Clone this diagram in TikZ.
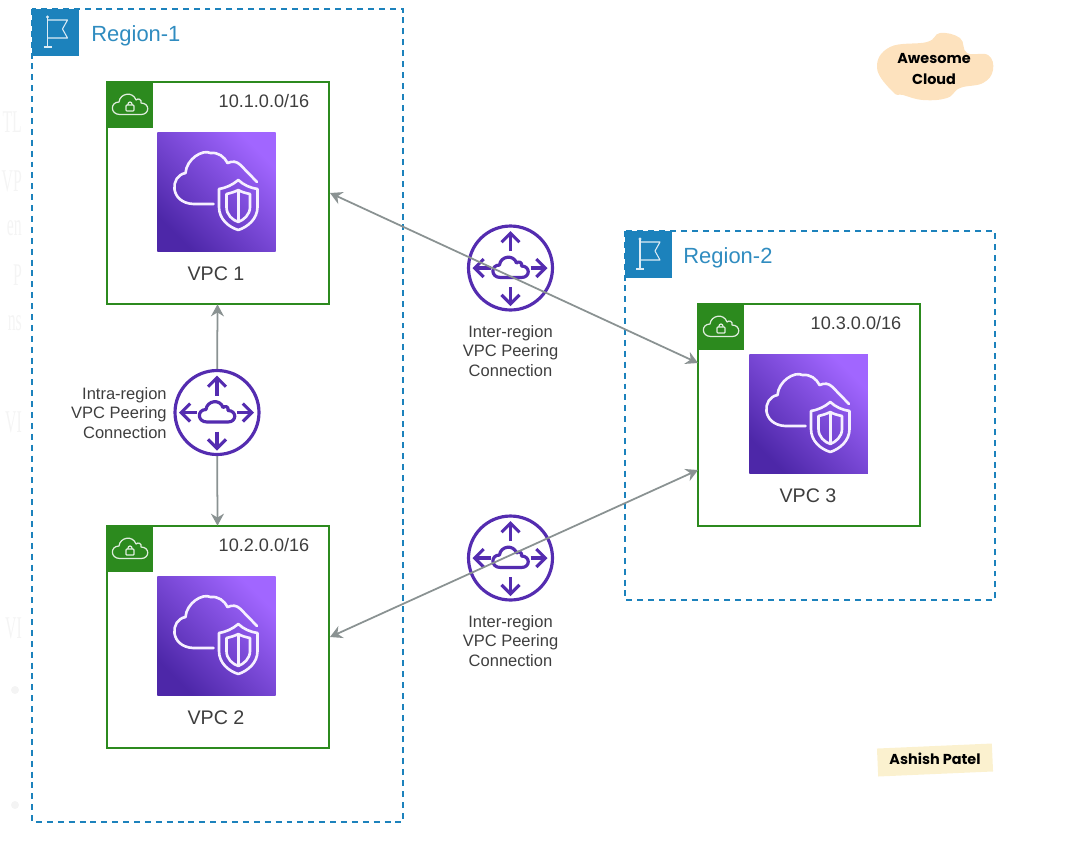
\documentclass[tikz,border=0pt]{standalone}
\usepackage{fontspec}
\setmainfont{Liberation Sans}
\newfontfamily\notefont{Poppins}
\newfontfamily\ghostfont{Liberation Serif}
\usetikzlibrary{arrows.meta,positioning,calc}
\definecolor{regionBlue}{RGB}{28, 130, 188}
\definecolor{nameBlue}{RGB}{48, 140, 192}
\definecolor{vpcGreen}{RGB}{44, 138, 30}
\definecolor{peerPurple}{RGB}{84, 44, 176}
\definecolor{iconDark}{RGB}{77, 39, 168}
\definecolor{iconLight}{RGB}{161, 102, 255}
\definecolor{inkText}{RGB}{62, 62, 62}
\definecolor{arrowGray}{RGB}{138, 146, 146}
\definecolor{cloudPeach}{RGB}{253, 226, 190}
\definecolor{tagYellow}{RGB}{251, 241, 207}
\definecolor{ghostGray}{RGB}{244, 244, 244}

\tikzset{
    cloudline/.pic={
        \draw[pic actions, line join=round] (-10,9.5) .. controls (-20,9.5) and (-20,-3) .. (-11,-3)
            .. controls (-10,-12) and (3,-14) .. (6,-5)
            .. controls (8,-7) and (12,-6) .. (11,-2)
            .. controls (20,-2) and (20,9.5) .. (11,9.5) -- cycle;
    },
    peersign/.pic={
        \pic[draw=peerPurple, line width=1.8pt] {cloudline};
        \draw[peertip] (0,-17) -- (0,-37);
        \draw[peertip] (0,19) -- (0,38);
        \draw[peertip] (-20,0) -- (-38,0);
        \draw[peertip] (20,0) -- (37,0);
    },
    locksign/.pic={
        \pic[draw=white!85!vpcGreen, line width=0.7pt] {cloudline};
        \draw[white!85!vpcGreen, line width=0.7pt, rounded corners=0.5pt] (-4,0) rectangle (4,6);
        \draw[white!85!vpcGreen, line width=0.7pt] (-2.2,0) .. controls (-2.2,-4) and (2.2,-4) .. (2.2,0);
    },
    flagsign/.pic={
        \draw[white!85!regionBlue, line width=0.6pt, line join=round] (-8,-15) -- (-8,15) (-12,15) -- (-4,15);
        \draw[white!85!regionBlue, line width=0.6pt, line join=round] (-8,-12) -- (12,-12) -- (7,-3) -- (12,6) -- (-8,6);
        \fill[white!85!regionBlue] (-8,-15) circle (1.6);
    },
    shieldsign/.pic={
        % cloud outline
        \draw[white!90!iconLight, line width=1.5pt, line cap=round, line join=round] (-3,12) -- (-23,12)
            .. controls (-47,11) and (-47,-16) .. (-31,-19)
            .. controls (-30,-33) and (-14,-43) .. (-6,-39)
            .. controls (2,-40) and (8,-35) .. (11,-29)
            .. controls (16,-31) and (20,-31) .. (24,-27)
            -- (40.5,-10);
        % outer and inner shield
        \draw[white!90!iconLight, line width=1.5pt, line join=round] (2.5,-3) .. controls (9,-4) and (16,-7) .. (21.8,-12)
            .. controls (27,-7) and (34,-4) .. (41,-3) -- (41,15)
            .. controls (41,27) and (31,35) .. (21.8,38)
            .. controls (12,35) and (2.5,27) .. (2.5,15) -- cycle;
        \draw[white!90!iconLight, line width=1.5pt, line join=round] (10,2) .. controls (14,1) and (18,0) .. (21.8,-2)
            .. controls (25,0) and (29,1) .. (33.5,2) -- (33.5,15)
            .. controls (33.5,23) and (27,28) .. (21.8,30)
            .. controls (16,28) and (10,23) .. (10,15) -- cycle;
        \draw[white!90!iconLight, line width=1.5pt] (21.8,-2) -- (21.8,30);
    }
}

\begin{document}
\begin{tikzpicture}[
        x=0.02cm, y=-0.02cm,
        region/.style={draw=regionBlue, line width=1.2pt, dash pattern=on 3.4pt off 2.8pt},
        regiontag/.style={fill=regionBlue, minimum size=0.94cm, inner sep=0pt},
        regionname/.style={font=\fontsize{12.5pt}{15pt}\selectfont, text=nameBlue, anchor=west, inner sep=0pt},
        vpcbox/.style={draw=vpcGreen, fill=white, line width=1.2pt, minimum size=4.44cm, inner sep=0pt},
        vpctag/.style={fill=vpcGreen, minimum size=0.93cm, inner sep=0pt},
        vpcicon/.style={minimum size=2.37cm, inner sep=0pt, shade, shading=axis, bottom color=iconDark, top color=iconLight, shading angle=-45},
        vpcname/.style={font=\fontsize{11.2pt}{13pt}\selectfont, text=inkText, inner sep=0pt},
        cidr/.style={font=\fontsize{10.3pt}{12pt}\selectfont, text=inkText, inner sep=0pt},
        peer/.style={draw=peerPurple, fill=white, line width=1.8pt, circle, minimum size=1.68cm, inner sep=0pt},
        peertip/.style={draw=peerPurple, line width=1.8pt, -{Straight Barb[length=1.8mm, width=3.6mm]}},
        peerlabel/.style={font=\fontsize{9.4pt}{11.3pt}\selectfont, text=inkText, inner sep=0pt},
        arr/.style={-{Stealth[length=2.4mm, width=2.6mm]}, line width=1pt, color=arrowGray, shorten >=-0.4pt},
        dblarr/.style={{Stealth[length=2.4mm, width=2.6mm]}-{Stealth[length=2.4mm, width=2.6mm]}, line width=1pt, color=arrowGray},
        ghost/.style={anchor=east, inner sep=0pt, xscale=0.5, transform shape, text=ghostGray, font=\ghostfont\fontsize{18pt}{20pt}\selectfont},
        note/.style={font=\notefont\bfseries\fontsize{8.2pt}{12.4pt}\selectfont, text=black, align=center, inner sep=0pt}
    ]
        \useasboundingbox (0,0) rectangle (1078,853);

        % Faint text behind the picture
        \foreach \txt/\yy/\idx in {TL/122/a, VP/181/b, en/228/c, P/275/d, ns/323/e, VI/422/f, VI/628/g}
            \node[ghost] (ghost\idx) at (22,\yy) {\txt};
        \fill[ghostGray] (15,690) circle (4);
        \fill[ghostGray] (15,805) circle (4);

        % Region 1
        \draw[region] (32,9) rectangle (403,822);
        \node[regiontag] (flagA) at (55.5,32) {};
        \pic at (flagA) {flagsign};
        \node[regionname] (nameA) at (91,36) {Region-1};

        % Region 2
        \draw[region] (625,231) rectangle (995,600);
        \node[regiontag] (flagB) at (648,254) {};
        \pic at (flagB) {flagsign};
        \node[regionname] (nameB) at (683,258) {Region-2};

        % VPC 1
        \node[vpcbox] (vpcA) at (218,193) {};
        \node[vpctag] (tagA) at (130,105) {};
        \pic at (tagA) {locksign};
        \node[cidr] (cidrA) at (264,101) {10.1.0.0/16};
        \node[vpcicon] (iconA) at (216.5,192) {};
        \pic at (iconA) {shieldsign};
        \node[vpcname] (labelA) at (216,274) {VPC 1};

        % VPC 2
        \node[vpcbox] (vpcB) at (218,637) {};
        \node[vpctag] (tagB) at (130,549) {};
        \pic at (tagB) {locksign};
        \node[cidr] (cidrB) at (264,545) {10.2.0.0/16};
        \node[vpcicon] (iconB) at (216.5,636) {};
        \pic at (iconB) {shieldsign};
        \node[vpcname] (labelB) at (216,718) {VPC 2};

        % VPC 3
        \node[vpcbox] (vpcC) at (809,415) {};
        \node[vpctag] (tagC) at (721,327) {};
        \pic at (tagC) {locksign};
        \node[cidr] (cidrC) at (856,323) {10.3.0.0/16};
        \node[vpcicon] (iconC) at (808.5,414) {};
        \pic at (iconC) {shieldsign};
        \node[vpcname] (labelC) at (808,496) {VPC 3};

        % Peering connections
        \node[peer] (peerA) at (217,412.5) {};
        \pic at (peerA) {peersign};
        \node[peerlabel, align=right, anchor=east] (peerlabelA) at (167,413) {Intra-region\\VPC Peering\\Connection};
        \node[peer] (peerB) at (510.5,268) {};
        \pic at (peerB) {peersign};
        \node[peerlabel, align=center] (peerlabelB) at (510.5,351) {Inter-region\\VPC Peering\\Connection};
        \node[peer] (peerC) at (510.5,558) {};
        \pic at (peerC) {peersign};
        \node[peerlabel, align=center] (peerlabelC) at (510.5,641) {Inter-region\\VPC Peering\\Connection};

        \coordinate (vpcCup) at (698,363);
        \coordinate (vpcCdown) at (698,470);
        \draw[arr] (peerA) -- (vpcA);
        \draw[arr] (peerA) -- (vpcB);
        \draw[dblarr] (vpcA.east) -- (vpcCup);
        \draw[dblarr] (vpcB.east) -- (vpcCdown);

        % Badges
        \fill[cloudPeach] plot[smooth cycle, tension=0.7] coordinates {(893,92) (877,68) (890,47) (927,42) (940,33) (960,38) (967,53) (988,55) (993,70) (983,83) (960,88) (947,98) (923,100) (903,95)};
        \node[note] (awesome) at (934,69) {Awesome\\Cloud};
        \node[fill=tagYellow, rotate=2.5, minimum width=2.3cm, minimum height=0.56cm, inner sep=0pt] (tagbox) at (935,760) {};
        \node[note] (ashish) at (935,759) {Ashish Patel};
    \end{tikzpicture}
\end{document}
